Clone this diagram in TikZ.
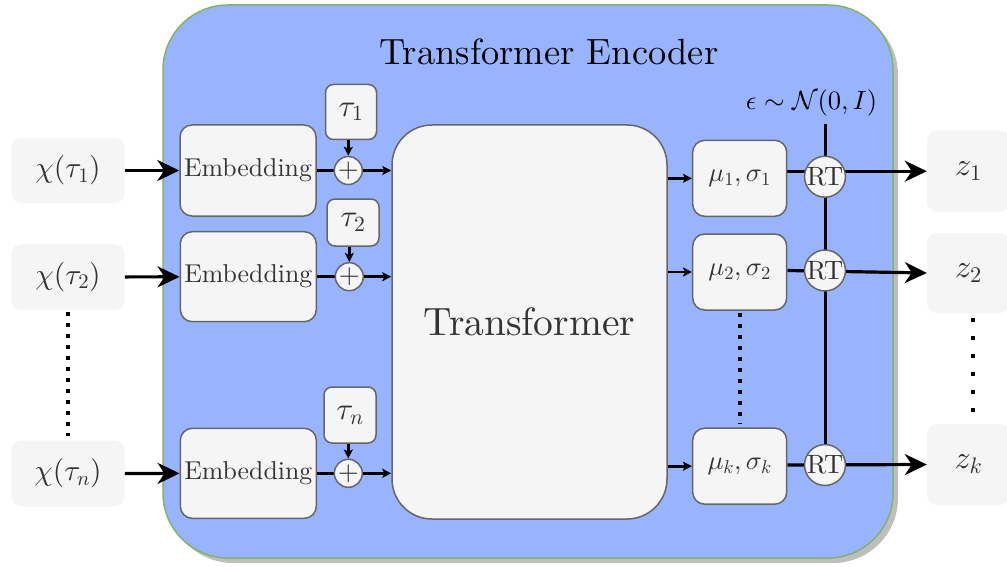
\documentclass[tikz,border=0pt]{standalone}
\usetikzlibrary{arrows.meta}
\DeclareFontFamily{TU}{lmten}{}
\DeclareFontShape{TU}{lmten}{m}{n}{<-> "[lmroman10-regular]:+tlig;"}{}
\renewcommand{\rmdefault}{lmten}
\DeclareFontShape{OML}{cmm}{m}{it}{<->cmmi10}{}
\DeclareFontShape{OMS}{cmsy}{m}{n}{<->cmsy10}{}
\DeclareFontShape{OT1}{cmr}{m}{n}{<->cmr10}{}
\definecolor{encblue}{RGB}{153,180,255}
\definecolor{encgreen}{RGB}{130,179,102}
\definecolor{boxfill}{RGB}{245,245,245}
\definecolor{boxline}{RGB}{102,102,102}
\definecolor{boxtext}{RGB}{51,51,51}
\definecolor{shadowgray}{RGB}{190,190,190}
\pgfdeclarelayer{back}
\pgfdeclarelayer{conn}
\pgfsetlayers{back,conn,main}
\begin{document}
\begin{tikzpicture}[x=1pt,y=-1pt,
  gbox/.style={draw=boxline, fill=boxfill, line width=1.5pt, rounded corners=12pt, text=boxtext, inner sep=0pt},
  io/.style={fill=boxfill, rounded corners=10pt, text=boxtext, inner sep=0pt},
  plusnode/.style={circle, draw=boxline, fill=boxfill, line width=1.5pt, minimum size=28pt, inner sep=0pt, text=boxtext, font={\fontsize{27}{27}\selectfont}},
  rtnode/.style={circle, draw=boxline, fill=boxfill, line width=1.5pt, minimum size=40pt, inner sep=0pt, text=boxtext, font={\fontsize{26.5}{26.5}\selectfont}},
  bigarrow/.style={line width=3.2pt, -{Stealth[length=22pt,width=21pt,inset=7pt]}},
  smallarrow/.style={line width=2.6pt, -{Stealth[length=9pt,width=9pt,inset=2pt]}},
  link/.style={line width=3pt},
  dotleft/.style={line width=4pt, dash pattern=on 4pt off 7pt, shorten <=2pt, shorten >=4pt},
  dotright/.style={line width=4pt, dash pattern=on 4pt off 14pt, shorten <=5pt, shorten >=9pt},
  embfont/.style={font={\fontsize{25.8}{28}\selectfont}},
  iofont/.style={font={\fontsize{29.5}{32}\selectfont}},
  taufont/.style={font={\fontsize{31}{33}\selectfont}},
  mufont/.style={font={\fontsize{26.5}{28}\selectfont}},
  zfont/.style={font={\fontsize{32}{34}\selectfont}}
]
\useasboundingbox (0,0) rectangle (1007,567);

% container
\begin{pgfonlayer}{back}
\fill[shadowgray, rounded corners=65pt] (168,10) rectangle (898,563);
\draw[fill=encblue, draw=encgreen, line width=1.5pt, rounded corners=65pt] (163,5) rectangle (893,558);
\end{pgfonlayer}

\node[font={\fontsize{36.5}{40}\selectfont}] (title) at (549,52) {Transformer Encoder};

% inputs
\node[io, iofont, minimum width=113pt, minimum height=65pt] (x1) at (68,170.5) {$\chi(\tau_1)$};
\node[io, iofont, minimum width=113pt, minimum height=66pt] (x2) at (68,277) {$\chi(\tau_2)$};
\node[io, iofont, minimum width=113pt, minimum height=66pt] (xn) at (68,473.5) {$\chi(\tau_n)$};

% embeddings
\node[gbox, embfont, minimum width=136pt, minimum height=91pt] (e1) at (248,170.5) {Embedding};
\node[gbox, embfont, minimum width=136pt, minimum height=90pt] (e2) at (248.3,276.7) {Embedding};
\node[gbox, embfont, minimum width=136pt, minimum height=90pt] (en) at (248.3,473.3) {Embedding};

% plus
\node[plusnode] (p1) at (348.3,170.5) {$+$};
\node[plusnode] (p2) at (349.3,276.7) {$+$};
\node[plusnode] (pn) at (348.3,473.3) {$+$};

% tau boxes
\node[gbox, taufont, rounded corners=8pt, minimum width=51pt, minimum height=55pt] (t1) at (351,112) {$\tau_1$};
\node[gbox, taufont, rounded corners=8pt, minimum width=52pt, minimum height=47pt] (t2) at (353,222.5) {$\tau_2$};
\node[gbox, taufont, rounded corners=8pt, minimum width=52pt, minimum height=56pt] (tn) at (350,415) {$\tau_n$};

% transformer
\node[gbox, rounded corners=40pt, minimum width=275pt, minimum height=394pt, font={\fontsize{39.5}{42}\selectfont}] (tf) at (529.5,322) {Transformer};

% mu sigma
\node[gbox, mufont, minimum width=94pt, minimum height=76pt] (m1) at (739.7,178.3) {$\mu_1,\sigma_1$};
\node[gbox, mufont, minimum width=94pt, minimum height=76pt] (m2) at (739.7,272) {$\mu_2,\sigma_2$};
\node[gbox, mufont, minimum width=94pt, minimum height=76pt] (mk) at (739.7,466.2) {$\mu_k,\sigma_k$};

% outputs
\node[io, zfont, minimum width=83pt, minimum height=81pt] (z1) at (968.5,171.2) {$z_1$};
\node[io, zfont, minimum width=83pt, minimum height=80pt] (z2) at (968.5,273) {$z_2$};
\node[io, zfont, minimum width=83pt, minimum height=81pt] (zk) at (968.5,464.5) {$z_k$};

% RT
\node[rtnode] (r1) at (825,176.7) {RT};
\node[rtnode] (r2) at (825,270.5) {RT};
\node[rtnode] (rk) at (825,465) {RT};

\node[font={\fontsize{26.5}{30}\selectfont}] (eps) at (811.5,103) {$\epsilon\sim\mathcal{N}(0,I)$};
\coordinate (epsbot) at (825,124);

\begin{pgfonlayer}{conn}
\draw[bigarrow] (x1) -- (e1);
\draw[bigarrow] (x2) -- (e2);
\draw[bigarrow] (xn) -- (en);

\draw[link] (e1) -- (p1);
\draw[link] (e2) -- (p2);
\draw[link] (en) -- (pn);

\draw[smallarrow] (t1.south -| p1.north) -- (p1.north);
\draw[smallarrow] (t2.south -| p2.north) -- (p2.north);
\draw[smallarrow] (tn.south -| pn.north) -- (pn.north);

\draw[smallarrow] (p1.east) -- (p1.east -| tf.west);
\draw[smallarrow] (p2.east) -- (p2.east -| tf.west);
\draw[smallarrow] (pn.east) -- (pn.east -| tf.west);

\draw[smallarrow] (m1.west -| tf.east) -- (m1.west);
\draw[smallarrow] (m2.west -| tf.east) -- (m2.west);
\draw[smallarrow] (mk.west -| tf.east) -- (mk.west);

\draw[link] (epsbot) -- (rk.north);

\draw[bigarrow] (m1.east |- z1.west) -- (z1.west);
\draw[bigarrow] (m2.east |- r2.west) -- (z2.west);
\draw[bigarrow] (mk.east |- rk.west) -- (zk.west);

\draw[dotleft] (x2.south) -- (xn.north);
\draw[dotleft] (m2.south) -- (mk.north);
\draw[dotright] ([xshift=4pt]z2.south) -- ([xshift=4pt]zk.north);
\end{pgfonlayer}
\end{tikzpicture}
\end{document}
